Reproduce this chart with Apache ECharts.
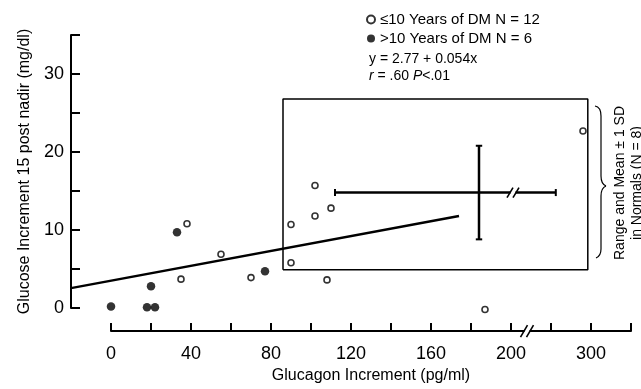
<!DOCTYPE html>
<html>
<head>
<meta charset="utf-8">
<script src="https://cdn.jsdelivr.net/npm/echarts@6/dist/echarts.min.js"></script>
<style>
html,body{margin:0;padding:0;background:#fff;}
#c{width:641px;height:389px;}
</style>
</head>
<body>
<div id="c"></div>
<script>
// ---- data ----
const seriesNames = ['\u226410 Years of DM N = 12', '>10 Years of DM N = 6'];
const openX = [38, 35, 55, 70, 90, 90, 102, 102, 110, 108, 187, 290];
const openY = [10.8, 3.7, 6.9, 3.9, 10.7, 5.8, 11.8, 15.7, 12.8, 3.6, -0.2, 22.7];
const filledX = [0, 18, 22, 20, 33, 77];
const filledY = [0.2, 0.1, 0.1, 2.8, 9.7, 4.7];
const regX = [-20, 174];
const regY = [2.55, 11.8];
const normalRangeX = [86, 296];
const normalRangeY = [4.9, 26.8];
const normalMean = [184, 14.8];
const normalSD = [72, 6];
const xTickValues = [0, 40, 80, 120, 160, 200, 300];
const yTickValues = [0, 10, 20, 30];
const xBreakAt = 200;      // axis break: scale after 200 is compressed
const xBreakFactor = 0.4;
const equationText = 'y = 2.77 + 0.054x';
const statText = '{i|r} = .60 {i|P}<.01';
const normalsText = 'Range and Mean \u00b1 1 SD\nin Normals (N = 8)';
const xName = 'Glucagon Increment (pg/ml)';
const yName = 'Glucose Increment 15 post nadir (mg/dl)';

function disp(v){ return v <= xBreakAt ? v : xBreakAt + (v - xBreakAt) * xBreakFactor; }
function real(d){ return d <= xBreakAt ? d : xBreakAt + (d - xBreakAt) / xBreakFactor; }

const FONT = 'Liberation Sans, Arial, sans-serif';
const chart = echarts.init(document.getElementById('c'), null, {renderer:'canvas'});

function seg(x1, y1, x2, y2, w){
  return {type:'line', xAxisIndex:0, yAxisIndex:0, data:[[x1,y1],[x2,y2]], symbol:'none',
    lineStyle:{color:'#000', width:w}, silent:true, clip:false, z:3, animation:false};
}
const hx1 = disp(normalMean[0]-normalSD[0]), hx2 = disp(normalMean[0]+normalSD[0]);
const vy1 = normalMean[1]-normalSD[1], vy2 = normalMean[1]+normalSD[1];
const mx = disp(normalMean[0]), my = normalMean[1];
const bx1 = disp(normalRangeX[0]), bx2 = disp(normalRangeX[1]);

const option = {
  backgroundColor:'#fff',
  animation:false,
  textStyle:{fontFamily:FONT},
  grid:[
    {left:71, right:10, top:35, bottom:81},
    {left:111, right:10, top:35, bottom:54}
  ],
  legend:{
    orient:'vertical', left:366, top:12, itemWidth:8, itemHeight:8, itemGap:4, padding:0,
    textStyle:{fontSize:15, color:'#000', fontFamily:FONT},
    data:seriesNames, selectedMode:false
  },
  xAxis:[
    {gridIndex:0, type:'value', min:-20, max:260, show:false},
    {gridIndex:1, type:'value', min:0, max:260, interval:20,
      axisLine:{show:true, onZero:false, lineStyle:{color:'#000', width:2}},
      axisTick:{show:true, inside:true, length:8, lineStyle:{color:'#000', width:2}},
      axisLabel:{margin:14, fontSize:18, color:'#000', fontFamily:FONT,
        formatter:function(v){ const r = Math.round(real(v)); return xTickValues.indexOf(r) >= 0 ? String(r) : ''; }},
      splitLine:{show:false},
      name:xName, nameLocation:'middle', nameGap:32,
      nameTextStyle:{fontSize:16, color:'#000', fontFamily:FONT}
    }
  ],
  yAxis:[
    {gridIndex:0, type:'value', min:0, max:35, interval:5,
      axisLine:{show:true, onZero:false, lineStyle:{color:'#000', width:2}},
      axisTick:{show:true, inside:true, length:9, lineStyle:{color:'#000', width:2}},
      axisLabel:{margin:7, fontSize:18, color:'#000', fontFamily:FONT,
        formatter:function(v){ return yTickValues.indexOf(v) >= 0 ? String(v) : ''; }},
      splitLine:{show:false},
      name:yName, nameLocation:'middle', nameGap:37,
      nameTextStyle:{fontSize:16, color:'#000', fontFamily:FONT}
    },
    {gridIndex:1, type:'value', min:0, max:1, show:false}
  ],
  series:[
    {name:seriesNames[0], type:'scatter', xAxisIndex:0, yAxisIndex:0,
      data:openX.map((x,i)=>[disp(x), openY[i]]), symbol:'circle', symbolSize:6,
      itemStyle:{color:'#fff', borderColor:'#000', borderWidth:1.6}, clip:false, z:5},
    {name:seriesNames[1], type:'scatter', xAxisIndex:0, yAxisIndex:0,
      data:filledX.map((x,i)=>[disp(x), filledY[i]]), symbol:'circle', symbolSize:8.5,
      itemStyle:{color:'#000'}, clip:false, z:5},
    {type:'line', xAxisIndex:0, yAxisIndex:0, data:regX.map((x,i)=>[disp(x), regY[i]]), symbol:'none',
      lineStyle:{color:'#000', width:2.5}, silent:true, clip:false, z:3},
    {type:'line', xAxisIndex:0, yAxisIndex:0, symbol:'none', silent:true, clip:false, z:2,
      data:[[bx1,normalRangeY[0]],[bx1,normalRangeY[1]],[bx2,normalRangeY[1]],[bx2,normalRangeY[0]],[bx1,normalRangeY[0]]],
      lineStyle:{color:'#000', width:1.5}},
    seg(hx1, my, hx2, my, 2.5),
    seg(mx, vy1, mx, vy2, 2.5),
    seg(hx1, my-0.45, hx1, my+0.45, 2),
    seg(hx2, my-0.45, hx2, my+0.45, 2),
    seg(mx-1.6, vy1, mx+1.6, vy1, 2),
    seg(mx-1.6, vy2, mx+1.6, vy2, 2)
  ]
};
chart.setOption(option);

// decorations placed through the chart's own coordinate system
const barBreak = chart.convertToPixel({gridIndex:0}, [201, my]);
const axisBreakX = chart.convertToPixel({gridIndex:0}, [208, 0])[0];
const axisY = chart.convertToPixel({gridIndex:1}, [0, 0])[1];
function slash(cx, cy, h, w){
  return {type:'line', shape:{x1:cx-w, y1:cy+h, x2:cx+w, y2:cy-h}, style:{stroke:'#000', lineWidth:1.6}, z:10};
}
const braceStyle = {stroke:'#000', fill:null, lineWidth:1.2};
function bz(x1,y1,cx,cy,x2,y2){ return {type:'bezierCurve', shape:{x1:x1,y1:y1,cpx1:cx,cpy1:cy,x2:x2,y2:y2}, style:braceStyle, z:10}; }
function ln(x1,y1,x2,y2){ return {type:'line', shape:{x1:x1,y1:y1,x2:x2,y2:y2}, style:braceStyle, z:10}; }
chart.setOption({
  graphic:[
    {type:'rect', shape:{x:axisBreakX-2.5, y:axisY-2, width:5, height:4}, style:{fill:'#fff'}, z:9},
    slash(axisBreakX-3, axisY, 6, 3.5),
    slash(axisBreakX+3, axisY, 6, 3.5),
    {type:'rect', shape:{x:barBreak[0]-2.5, y:barBreak[1]-2, width:5, height:4}, style:{fill:'#fff'}, z:9},
    slash(barBreak[0]-3, barBreak[1], 5, 3),
    slash(barBreak[0]+3, barBreak[1], 5, 3),
    bz(595,106, 601,107, 601,116),
    ln(601,116, 601,176),
    bz(601,176, 601,184, 606,186),
    bz(606,186, 601,188, 601,196),
    ln(601,196, 601,249),
    bz(601,249, 601,256, 596,258),
    {type:'text', x:629, y:183, rotation:Math.PI/2,
      style:{text:normalsText, fontSize:14, lineHeight:17, fill:'#000', fontFamily:FONT, align:'center', verticalAlign:'middle'}, z:10},
    {type:'text', x:369, y:59,
      style:{text:equationText, fontSize:14, fill:'#000', fontFamily:FONT, align:'left', verticalAlign:'middle'}, z:10},
    {type:'text', x:369, y:76,
      style:{text:statText, fontSize:14, fill:'#000', fontFamily:FONT, align:'left', verticalAlign:'middle',
        rich:{i:{fontStyle:'italic', fontSize:14, fontFamily:FONT, fill:'#000'}}}, z:10}
  ]
});
</script>
</body>
</html>
